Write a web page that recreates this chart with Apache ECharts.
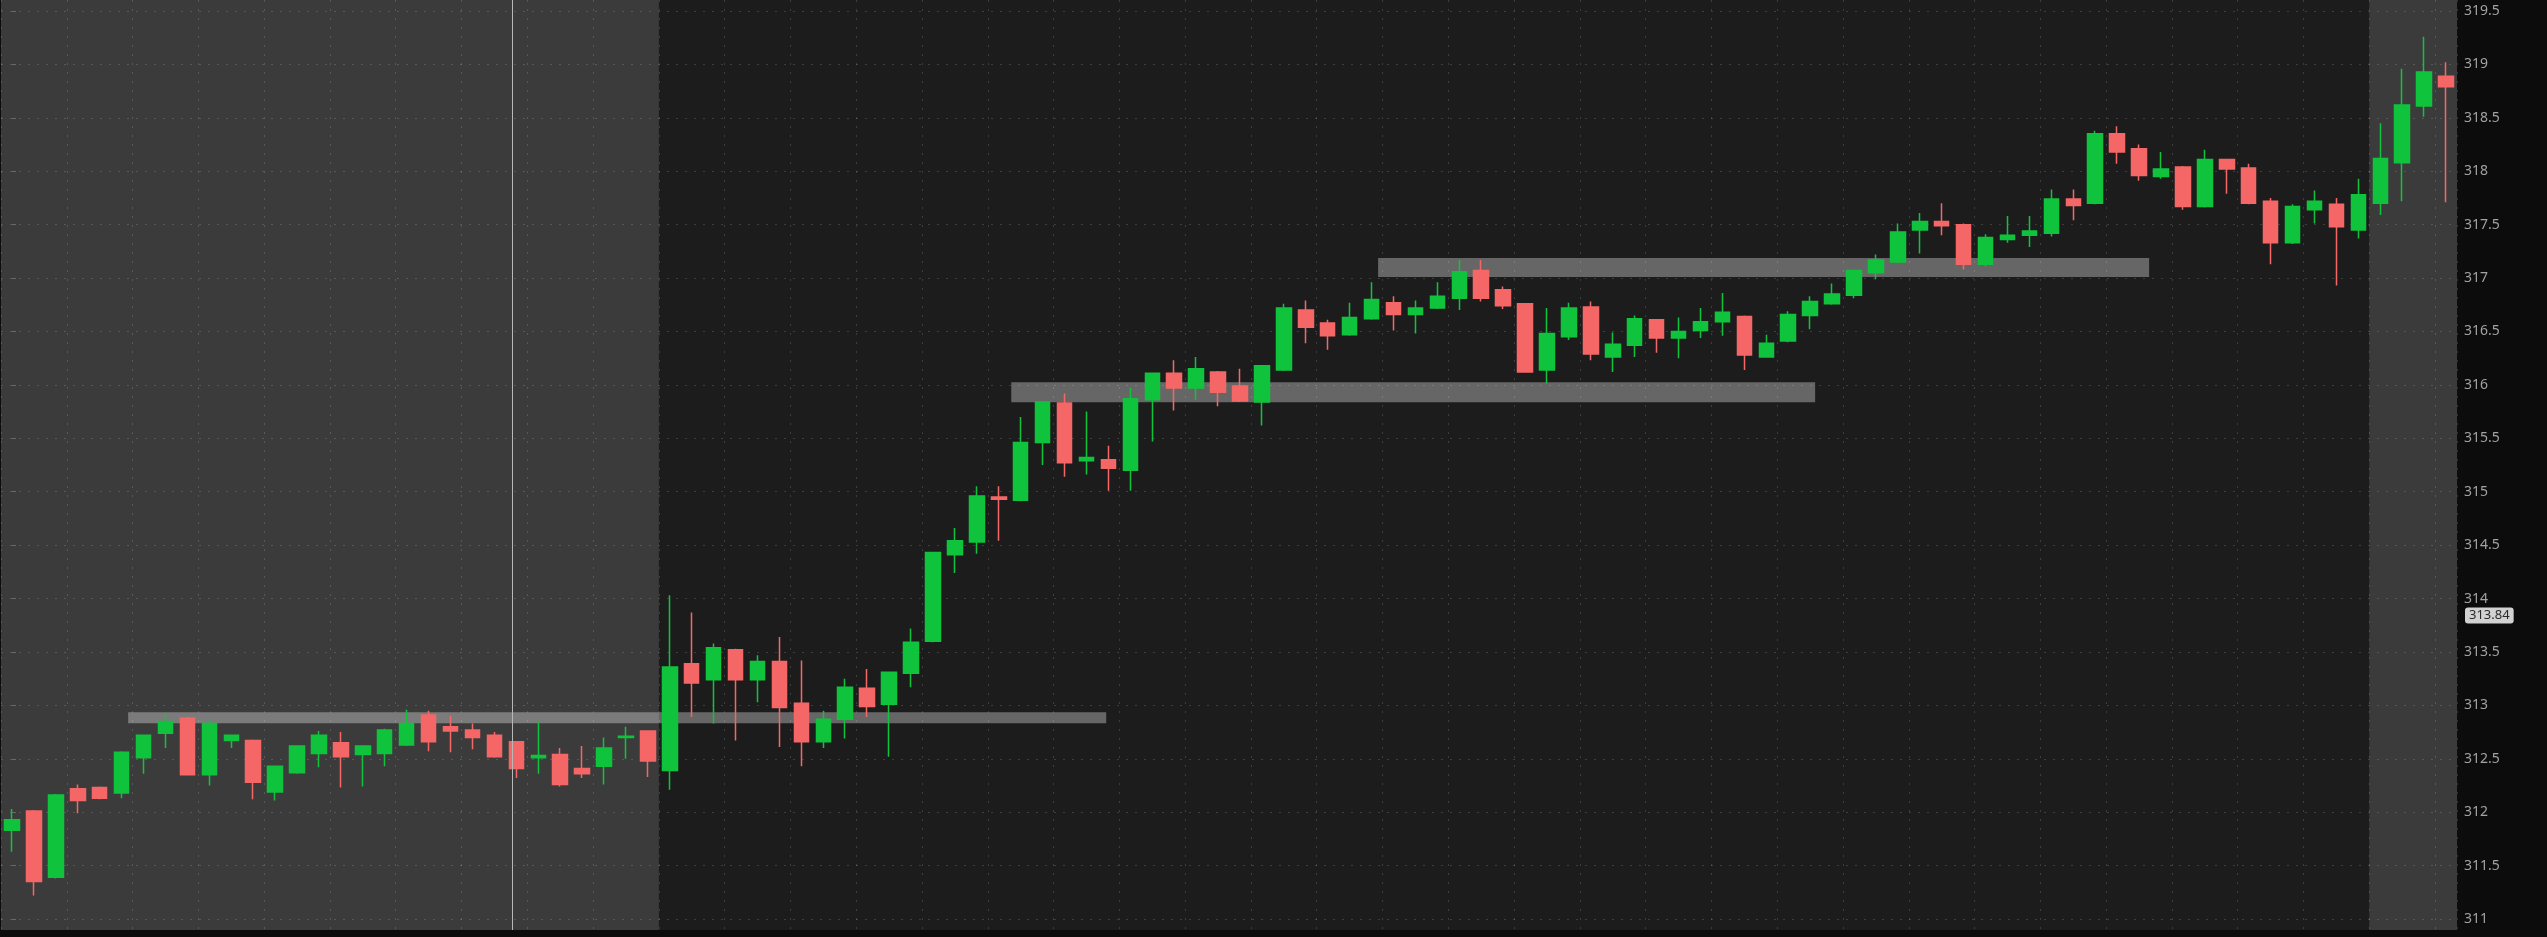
<!DOCTYPE html>
<html>
<head>
<meta charset="utf-8">
<title>Intraday candles</title>
<script src="https://cdn.jsdelivr.net/npm/echarts@6/dist/echarts.min.js"></script>
<style>
  html, body { margin: 0; padding: 0; background: #0c0c0c; }
  #main { width: 2547px; height: 937px; }
</style>
</head>
<body>
<div id="main"></div>
<script>
// candle values (one entry per bar)
var opens = [
  311.83, 312.01, 311.39, 312.22, 312.23, 312.18, 312.51, 312.74, 312.88, 312.35,
  312.67, 312.67, 312.19, 312.37, 312.55, 312.65, 312.54, 312.55, 312.63, 312.91,
  312.80, 312.77, 312.72, 312.66, 312.51, 312.54, 312.41, 312.43, 312.70, 312.76,
  312.39, 313.39, 313.24, 313.52, 313.24, 313.41, 313.02, 312.66, 312.87, 313.16,
  313.01, 313.30, 313.60, 314.41, 314.53, 314.95, 314.92, 315.46, 315.83, 315.29,
  315.30, 315.20, 315.86, 316.11, 315.97, 316.12, 315.99, 315.84, 316.14, 316.70,
  316.58, 316.47, 316.62, 316.77, 316.66, 316.72, 316.81, 317.07, 316.89, 316.76,
  316.14, 316.45, 316.73, 316.26, 316.37, 316.61, 316.44, 316.51, 316.59, 316.64,
  316.26, 316.41, 316.65, 316.76, 316.84, 317.05, 317.15, 317.45, 317.53, 317.50,
  317.13, 317.36, 317.40, 317.42, 317.74, 317.70, 318.35, 318.21, 317.95, 318.04,
  317.67, 318.11, 318.03, 317.72, 317.33, 317.64, 317.69, 317.45, 317.70, 318.08,
  318.61, 318.89
];
var closes = [
  311.93, 311.35, 312.16, 312.11, 312.13, 312.56, 312.72, 312.85, 312.35, 312.83,
  312.72, 312.28, 312.43, 312.62, 312.72, 312.52, 312.62, 312.77, 312.83, 312.66,
  312.76, 312.70, 312.52, 312.41, 312.53, 312.26, 312.36, 312.60, 312.71, 312.48,
  313.36, 313.21, 313.54, 313.24, 313.41, 312.98, 312.66, 312.87, 313.17, 312.99,
  313.31, 313.59, 314.43, 314.54, 314.96, 314.93, 315.46, 315.84, 315.27, 315.32,
  315.22, 315.87, 316.11, 315.97, 316.15, 315.93, 315.85, 316.18, 316.72, 316.54,
  316.46, 316.63, 316.80, 316.66, 316.72, 316.83, 317.06, 316.81, 316.74, 316.12,
  316.48, 316.72, 316.29, 316.38, 316.62, 316.44, 316.50, 316.59, 316.68, 316.28,
  316.39, 316.66, 316.78, 316.85, 317.07, 317.17, 317.43, 317.53, 317.49, 317.13,
  317.38, 317.40, 317.44, 317.74, 317.68, 318.35, 318.18, 317.96, 318.02, 317.67,
  318.11, 318.02, 317.70, 317.33, 317.67, 317.72, 317.48, 317.78, 318.12, 318.62,
  318.93, 318.79
];
var lows = [
  311.63, 311.22, 311.38, 311.99, 312.12, 312.13, 312.36, 312.60, 312.35, 312.25,
  312.60, 312.12, 312.11, 312.36, 312.42, 312.23, 312.24, 312.43, 312.62, 312.57,
  312.56, 312.59, 312.51, 312.32, 312.36, 312.24, 312.32, 312.26, 312.50, 312.33,
  312.21, 312.89, 312.83, 312.67, 313.03, 312.61, 312.43, 312.60, 312.69, 312.89,
  312.52, 313.17, 313.59, 314.24, 314.42, 314.54, 314.91, 315.25, 315.14, 315.16,
  315.01, 315.01, 315.47, 315.76, 315.86, 315.80, 315.84, 315.62, 316.13, 316.39,
  316.33, 316.46, 316.61, 316.51, 316.48, 316.71, 316.70, 316.78, 316.71, 316.12,
  316.01, 316.42, 316.23, 316.12, 316.26, 316.30, 316.25, 316.44, 316.46, 316.14,
  316.26, 316.40, 316.52, 316.75, 316.81, 316.99, 317.14, 317.23, 317.40, 317.08,
  317.11, 317.33, 317.29, 317.39, 317.54, 317.69, 318.07, 317.91, 317.93, 317.64,
  317.66, 317.79, 317.69, 317.13, 317.32, 317.51, 316.93, 317.37, 317.59, 317.72,
  318.51, 317.71
];
var highs = [
  312.03, 312.02, 312.17, 312.26, 312.24, 312.57, 312.72, 312.92, 312.89, 312.86,
  312.72, 312.68, 312.43, 312.62, 312.76, 312.75, 312.62, 312.78, 312.96, 312.95,
  312.90, 312.83, 312.75, 312.66, 312.85, 312.60, 312.62, 312.70, 312.80, 312.76,
  314.03, 313.87, 313.58, 313.53, 313.47, 313.64, 313.42, 312.95, 313.25, 313.34,
  313.31, 313.72, 314.43, 314.66, 315.05, 315.05, 315.70, 315.85, 315.92, 315.75,
  315.43, 315.97, 316.11, 316.23, 316.26, 316.13, 316.15, 316.18, 316.76, 316.79,
  316.61, 316.77, 316.96, 316.83, 316.79, 316.96, 317.17, 317.17, 316.92, 316.76,
  316.72, 316.77, 316.78, 316.49, 316.65, 316.61, 316.63, 316.72, 316.86, 316.65,
  316.47, 316.69, 316.83, 316.95, 317.08, 317.22, 317.51, 317.61, 317.70, 317.51,
  317.41, 317.58, 317.58, 317.83, 317.83, 318.38, 318.42, 318.25, 318.18, 318.05,
  318.20, 318.11, 318.07, 317.75, 317.69, 317.82, 317.75, 317.93, 318.45, 318.96,
  319.26, 319.02
];
var categories = opens.map(function (v, i) { return String(i); });

// horizontal price levels (start bar, end bar, price)
var levelFrom = [5.3, 45.57, 62.3];
var levelTo = [49.9, 82.23, 97.46];
var levelPrice = [312.885, 315.93, 317.10];

// extended-hours sessions (first bar edge, last bar edge)
var sessionFrom = [-0.5, 107.5];
var sessionTo = [29.5, 111.5];

var cursorBar = 22.8;
var markPrice = 313.84;

var levelThick = [11, 20, 19];

var candleData = opens.map(function (o, i) {
    return [o, closes[i], lows[i], highs[i]];
});
var levelData = levelFrom.map(function (f, i) {
    return [f, levelTo[i], levelPrice[i]];
});
var sessionData = sessionFrom.map(function (f, i) {
    return [f, sessionTo[i]];
});

var dom = document.getElementById('main');
var myChart = echarts.init(dom, null, { renderer: 'canvas' });

var UP = '#10c33d';
var DOWN = '#f56767';
var gridDot = { color: 'rgba(255,255,255,0.15)', width: 1, type: [2, 7] };

var option = {
    animation: false,
    backgroundColor: '#0c0c0c',
    grid: [
        { left: 1, right: 90, top: 11, bottom: 18 },
        { left: 1, right: 90, top: 0, bottom: 7, show: true, backgroundColor: '#1c1c1c', borderWidth: 0 }
    ],
    xAxis: [
        { type: 'category', gridIndex: 0, data: categories, boundaryGap: true, show: false },
        { type: 'value', gridIndex: 0, min: -0.5, max: 111.5, show: false },
        {
            type: 'category', gridIndex: 1, data: categories, boundaryGap: true, z: 1,
            axisLine: { show: false }, axisTick: { show: false }, axisLabel: { show: false },
            splitLine: { show: true, interval: 2, lineStyle: gridDot }
        },
        { type: 'value', gridIndex: 1, min: -0.5, max: 111.5, show: false }
    ],
    yAxis: [
        {
            type: 'value', gridIndex: 0, position: 'right', min: 311, max: 319.5, interval: 0.5, z: 1,
            axisLine: { show: false },
            axisTick: { show: true, length: 4, lineStyle: { color: '#6a6a6a' } },
            axisLabel: { color: '#a2a2a2', fontSize: 14, fontFamily: 'Noto Sans', margin: 7 },
            splitLine: { show: true, lineStyle: gridDot }
        },
        { type: 'value', gridIndex: 1, min: 0, max: 1, show: false }
    ],
    series: [
        {
            type: 'custom',
            name: 'sessions',
            xAxisIndex: 3,
            yAxisIndex: 1,
            z: 0,
            silent: true,
            encode: { x: [0, 1] },
            data: sessionData,
            renderItem: function (params, api) {
                var a = api.coord([api.value(0), 1]);
                var b = api.coord([api.value(1), 0]);
                return {
                    type: 'rect',
                    shape: { x: a[0], y: a[1], width: b[0] - a[0], height: b[1] - a[1] },
                    style: { fill: '#3b3b3b' }
                };
            },
            markLine: {
                silent: true,
                symbol: 'none',
                label: { show: false },
                lineStyle: { color: '#b8b8b8', width: 1, type: 'solid' },
                data: [{ xAxis: cursorBar }]
            }
        },
        {
            type: 'custom',
            name: 'levels',
            xAxisIndex: 1,
            yAxisIndex: 0,
            z: 2,
            silent: true,
            encode: { x: [0, 1], y: 2 },
            data: levelData,
            renderItem: function (params, api) {
                var a = api.coord([api.value(0), api.value(2)]);
                var b = api.coord([api.value(1), api.value(2)]);
                var h = levelThick[params.dataIndex];
                return {
                    type: 'rect',
                    shape: { x: a[0], y: a[1] - h / 2, width: b[0] - a[0], height: h },
                    style: { fill: 'rgba(255,255,255,0.33)' }
                };
            }
        },
        {
            type: 'candlestick',
            name: 'AAPL',
            xAxisIndex: 0,
            yAxisIndex: 0,
            z: 3,
            barWidth: 15,
            data: candleData,
            itemStyle: {
                color: UP,
                color0: DOWN,
                borderColor: UP,
                borderColor0: DOWN,
                borderWidth: 1.5
            }
        },
        {
            type: 'line',
            name: 'mark',
            xAxisIndex: 1,
            yAxisIndex: 0,
            z: 4,
            silent: true,
            showSymbol: false,
            data: [],
            markLine: {
                silent: true,
                symbol: 'none',
                lineStyle: { color: 'rgba(0,0,0,0)', width: 1 },
                label: {
                    show: true,
                    position: 'end',
                    distance: 8,
                    formatter: String(markPrice),
                    color: '#2a2a2a',
                    backgroundColor: '#d2d2d2',
                    borderRadius: 3,
                    padding: [2, 4, 1, 4],
                    fontSize: 13,
                    fontFamily: 'Noto Sans'
                },
                data: [{ yAxis: markPrice }]
            }
        }
    ]
};

myChart.setOption(option);
window.addEventListener('resize', myChart.resize);
</script>
</body>
</html>
